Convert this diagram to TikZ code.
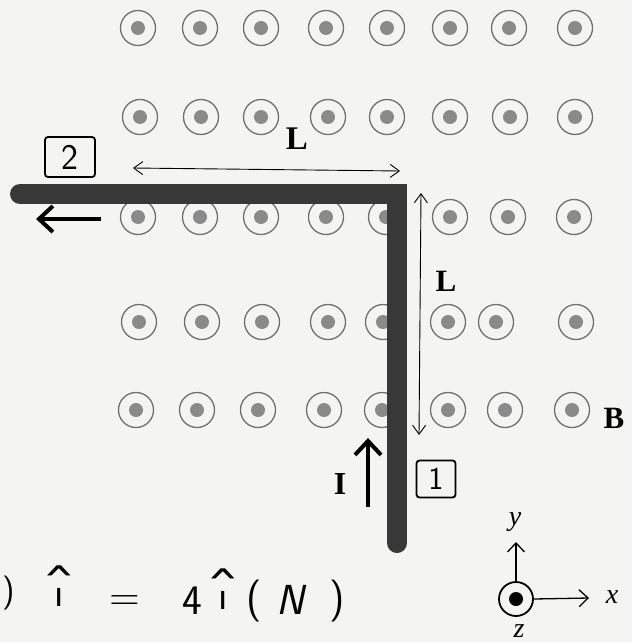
\documentclass[tikz,border=0pt]{standalone}
\usepackage{fontspec}
\usepackage{graphicx}
\newfontfamily\timesf{Liberation Serif}
\usetikzlibrary{arrows.meta}
\definecolor{bg}{HTML}{F4F4F2}
\definecolor{ringc}{HTML}{707070}
\definecolor{dotc}{HTML}{8A8A8A}
\definecolor{wirec}{HTML}{383838}
\newcommand{\hatdotless}{\ooalign{\hfil ı\hfil\cr\hfil\scalebox{1.8}[1.4]{\char"02C6}\hfil\cr}}
\begin{document}
\begin{tikzpicture}[x=1pt,y=-1pt,
  ring/.style={circle,draw=ringc,line width=1.3pt,minimum size=35pt,inner sep=0pt,
    path picture={\fill[dotc] (path picture bounding box.center) circle (7pt);}},
  wirestyle/.style={draw=wirec,line width=20pt},
  dimline/.style={line width=0.9pt,{Straight Barb[length=9pt,width=13pt]}-{Straight Barb[length=9pt,width=13pt]}},
  bigarrow/.style={line width=4pt,-{Straight Barb[length=14pt,width=26pt]}},
  axarrow/.style={line width=1.3pt,-{Straight Barb[length=9pt,width=17pt]}},
  lbl/.style={font=\timesf\bfseries\fontsize{31}{31}\selectfont,inner sep=0pt},
  axl/.style={font=\timesf\itshape\fontsize{28}{28}\selectfont,inner sep=0pt},
  hand/.style={font=\sffamily\fontsize{42}{42}\selectfont,inner sep=0pt,anchor=base},
  numbox/.style={draw=black,line width=1.8pt,rounded corners=3pt,inner sep=0pt,font=\sffamily\fontsize{36}{36}\selectfont}
]
\useasboundingbox[fill=bg] (0,0) rectangle (632,642);
% field rings
\foreach \x [count=\i] in {138,200,261,326,387,450,509,575} \node[ring] (ra-\i) at (\x,28) {};
\foreach \x [count=\i] in {140,201,261,328,387,450,510,575} \node[ring] (rb-\i) at (\x,117) {};
\foreach \x [count=\i] in {138,200,261,326,386,450,508,574} \node[ring] (rc-\i) at (\x,217) {};
\foreach \x [count=\i] in {139,202,262,328,383,448,496,576} \node[ring] (rd-\i) at (\x,322) {};
\foreach \x [count=\i] in {136,197,258,324,382,448,505,572} \node[ring] (re-\i) at (\x,410) {};
% wire
\coordinate (wL) at (20,194);
\coordinate (wC) at (397,194);
\coordinate (wB) at (397,543);
\draw[wirestyle,line cap=round,line join=miter] (wL) -- (wC) -- (wB);
% dimension arrows
\coordinate (h1) at (133,168);
\coordinate (h2) at (400,171);
\draw[dimline] (h1) -- (h2);
\coordinate (v1) at (421,193);
\coordinate (v2) at (419,435);
\draw[dimline] (v1) -- (v2);
\node[lbl,font=\timesf\bfseries\fontsize{33}{33}\selectfont] (Lh) at (297,139) {L};
\node[lbl] (Lv) at (446,281) {L};
\node[lbl] (B) at (614,418) {B};
% current arrows
\coordinate (ia1) at (368,507);
\coordinate (ia2) at (368,438);
\draw[bigarrow] (ia1) -- (ia2);
\node[lbl,font=\timesf\bfseries\fontsize{32}{32}\selectfont] (I) at (340,484) {I};
\coordinate (la1) at (101,219);
\coordinate (la2) at (36,219);
\draw[bigarrow] (la1) -- (la2);
% number boxes
\node[numbox,minimum width=50pt,minimum height=40pt] (b2) at (70,157) {2};
\node[numbox,minimum width=39pt,minimum height=37pt,font=\sffamily\fontsize{32}{32}\selectfont] (b1) at (436,479) {1};
% axes
\node[circle,draw=black,line width=1.8pt,minimum size=34pt,inner sep=0pt] (ax) at (516,599) {};
\fill[black] (ax.center) circle (7pt);
\coordinate (axX) at (589,598);
\coordinate (axY) at (516,542);
\draw[axarrow] (ax.east) -- (axX);
\draw[axarrow] (ax.north) -- (axY);
\node[axl] (lx) at (612,597) {x};
\node[axl] (ly) at (515,522) {y};
\node[axl,anchor=base] (lz) at (519,637) {z};
% handwritten equation
\node[hand,font=\sffamily\fontsize{34}{34}\selectfont] (e0) at (9,601) {)};
\node[hand] (e1) at (59,606) {\hatdotless};
\node[hand] (e2) at (125,610) {=};
\node[hand] (e3) at (192,614) {4};
\node[hand] (e4) at (223,609) {\hatdotless};
\node[hand] (e5) at (254,611) {(};
\node[hand,font=\sffamily\slshape\fontsize{42}{42}\selectfont] (e6) at (290,614) {N};
\node[hand] (e7) at (337,611) {)};
\end{tikzpicture}
\end{document}
